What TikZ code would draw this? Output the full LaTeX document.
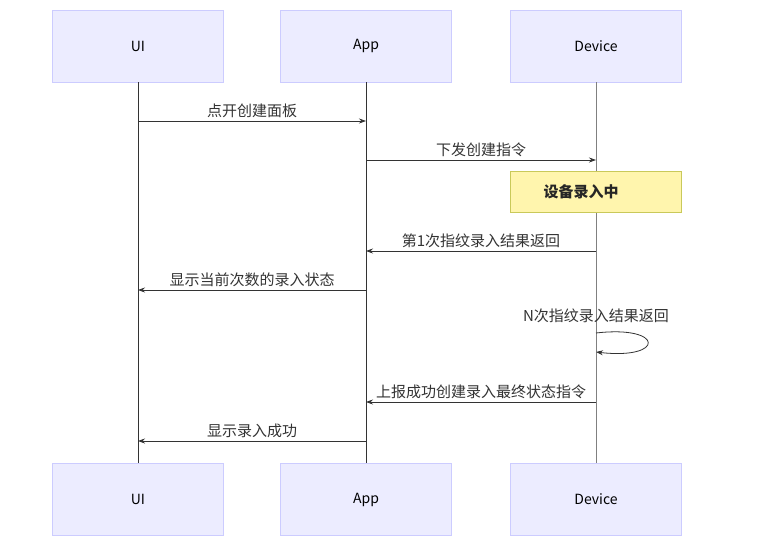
\documentclass[tikz,border=0pt]{standalone}
\usepackage{fontspec}
\setmainfont{Noto Sans CJK SC}
\usetikzlibrary{arrows.meta}
\definecolor{actfill}{HTML}{ECECFF}
\definecolor{actdraw}{HTML}{CCCCFF}
\definecolor{notefill}{HTML}{FFF5AD}
\definecolor{notedraw}{HTML}{C9C95A}
\definecolor{ln}{HTML}{333333}
\begin{document}
\begin{tikzpicture}[x=1pt,y=-1pt,
  actor/.style={draw=actdraw,fill=actfill,minimum width=171pt,minimum height=72pt,font=\fontsize{14}{16}\selectfont,inner sep=0pt},
  msg/.style={draw=ln,line width=0.8pt,-{Stealth[length=7pt,width=5pt]}},
  lbl/.style={font=\fontsize{15}{17}\selectfont,text=ln,inner sep=1pt}]
\useasboundingbox (0,0) rectangle (761,546);
\fill[white] (0,0) rectangle (761,546);
\foreach \n/\t/\x in {ui/UI/138,app/App/366,dev/Device/596}{
  \node[actor] (\n t) at (\x,46) {\t};
  \node[actor] (\n b) at (\x,499.5) {\t};
}
\draw[ln,line width=1pt] (uit.south) -- (uib.north);
\draw[ln,line width=1pt] (appt.south) -- (appb.north);
\draw[gray,line width=0.6pt] (devt.south) -- (devb.north);
\node[draw=notedraw,fill=notefill,minimum width=171pt,minimum height=41pt,font=\fontsize{15}{17}\selectfont\bfseries,text=black!85,inner sep=0pt] (note) at (596,191.5) {\hspace*{-30pt}设备录入中};
\foreach \a/\b/\y/\t in {ui/app/121/点开创建面板, app/dev/160/下发创建指令, dev/app/251/第1次指纹录入结果返回, app/ui/290/显示当前次数的录入状态, dev/app/402/上报成功创建录入最终状态指令, app/ui/441/显示录入成功}{
  \coordinate (s) at (\a t.south |- 0,\y);
  \coordinate (e) at (\b t.south |- 0,\y);
  \draw[msg] (s) -- (e) node[lbl,midway,above=2pt] {\t};
}
\coordinate (ls) at (596,333);
\coordinate (le) at (596,352);
\draw[msg] (ls) .. controls (665,325) and (665,360) .. (le);
\node[lbl] (nl) at (596,316) {N次指纹录入结果返回};
\end{tikzpicture}
\end{document}
